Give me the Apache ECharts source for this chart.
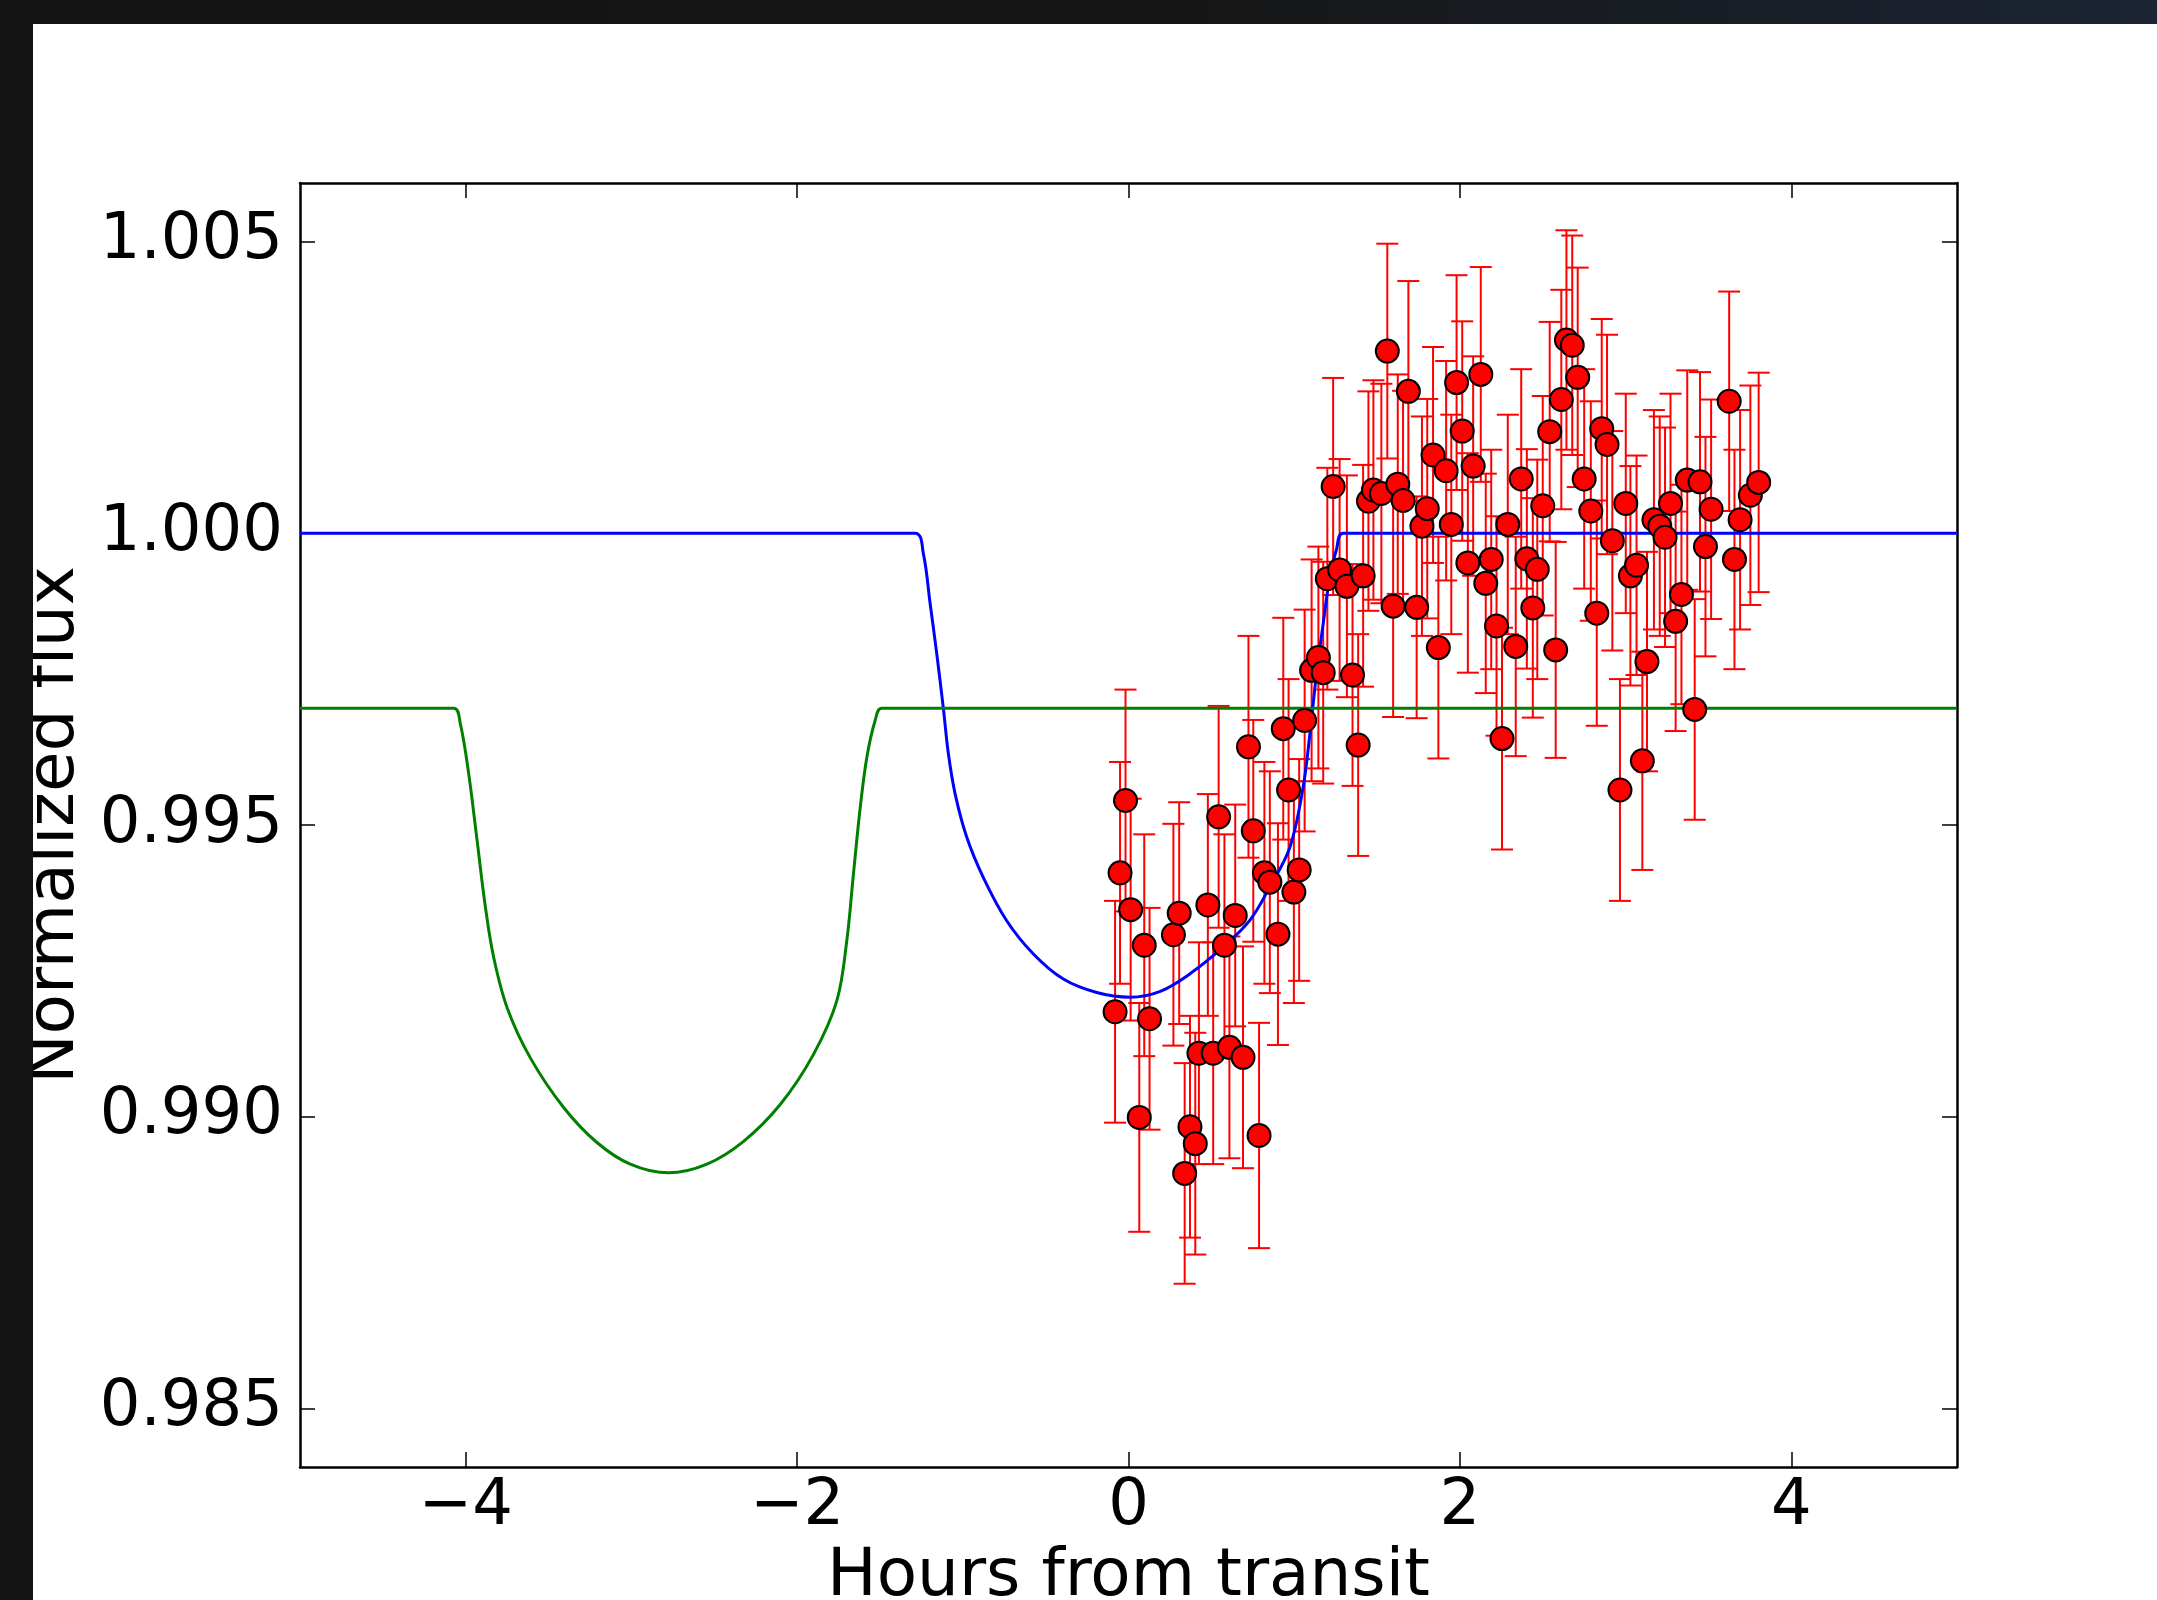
<!DOCTYPE html>
<html>
<head>
<meta charset="utf-8">
<script src="https://cdn.jsdelivr.net/npm/echarts@6/dist/echarts.min.js"></script>
<style>
html,body{margin:0;padding:0;width:2157px;height:1600px;overflow:hidden;
  background:linear-gradient(90deg,#131313 0%,#161616 55%,#1b2433 100%);}
#chart{position:absolute;left:33px;top:24px;width:2124px;height:1576px;background:#ffffff;}
</style>
</head>
<body>
<div id="chart"></div>
<script>
// ---- data ----
const xTicks = [-4, -2, 0, 2, 4];
const yTicks = [0.985, 0.990, 0.995, 1.000, 1.005];

const transitHours = [
  -0.081, -0.051, -0.018, 0.013, 0.065, 0.095, 0.127, 0.271, 0.306, 0.339,
  0.371, 0.403, 0.425, 0.479, 0.511, 0.544, 0.579, 0.609, 0.644, 0.691,
  0.724, 0.753, 0.788, 0.820, 0.853, 0.902, 0.934, 0.966, 0.998, 1.030,
  1.063, 1.105, 1.146, 1.175, 1.200, 1.235, 1.274, 1.318, 1.352, 1.386,
  1.416, 1.448, 1.478, 1.526, 1.562, 1.597, 1.625, 1.657, 1.689, 1.739,
  1.771, 1.803, 1.838, 1.870, 1.917, 1.948, 1.980, 2.014, 2.048, 2.080,
  2.126, 2.156, 2.189, 2.221, 2.254, 2.289, 2.337, 2.370, 2.404, 2.440,
  2.467, 2.500, 2.542, 2.578, 2.612, 2.643, 2.678, 2.711, 2.750, 2.790,
  2.826, 2.856, 2.888, 2.920, 2.966, 3.001, 3.029, 3.066, 3.101, 3.129,
  3.171, 3.206, 3.238, 3.271, 3.302, 3.337, 3.372, 3.417, 3.449, 3.482,
  3.516, 3.625, 3.657, 3.691, 3.753, 3.803
];

const transitFlux = [
  0.99180, 0.99418, 0.99542, 0.99355, 0.98999, 0.99294, 0.99168, 0.99312, 0.99349, 0.98903,
  0.98983, 0.98954, 0.99109, 0.99363, 0.99109, 0.99514, 0.99294, 0.99119, 0.99345, 0.99102,
  0.99634, 0.99490, 0.98968, 0.99418, 0.99402, 0.99313, 0.99665, 0.99560, 0.99385, 0.99423,
  0.99679, 0.99765, 0.99787, 0.99761, 0.99922, 1.00080, 0.99937, 0.99909, 0.99757, 0.99637,
  0.99927, 1.00055, 1.00074, 1.00068, 1.00312, 0.99875, 1.00084, 1.00056, 1.00243, 0.99873,
  1.00012, 1.00042, 1.00134, 0.99804, 1.00107, 1.00015, 1.00258, 1.00175, 0.99949, 1.00115,
  1.00272, 0.99914, 0.99955, 0.99841, 0.99648, 1.00015, 0.99806, 1.00093, 0.99956, 0.99872,
  0.99938, 1.00047, 1.00174, 0.99800, 1.00229, 1.00331, 1.00322, 1.00267, 1.00093, 1.00038,
  0.99863, 1.00179, 1.00152, 0.99987, 0.99560, 1.00051, 0.99927, 0.99945, 0.99610, 0.99780,
  1.00023, 1.00012, 0.99993, 1.00051, 0.99849, 0.99895, 1.00091, 0.99698, 1.00088, 0.99977,
  1.00041, 1.00226, 0.99955, 1.00023, 1.00065, 1.00087
];

const fluxError = [
  0.0019, 0.0019, 0.0019, 0.0019, 0.00196, 0.0019, 0.0019, 0.0019, 0.0019, 0.00189,
  0.0019, 0.0019, 0.0019, 0.0019, 0.0019, 0.0019, 0.0019, 0.0019, 0.0019, 0.0019,
  0.0019, 0.0019, 0.00193, 0.0019, 0.0019, 0.0019, 0.0019, 0.0019, 0.0019, 0.0019,
  0.0019, 0.0019, 0.0019, 0.0019, 0.0019, 0.00186, 0.0019, 0.0019, 0.0019, 0.0019,
  0.0019, 0.00188, 0.00188, 0.00188, 0.00184, 0.0019, 0.00188, 0.00188, 0.00189, 0.0019,
  0.00188, 0.00188, 0.00185, 0.0019, 0.00188, 0.00188, 0.00184, 0.00188, 0.00188, 0.00188,
  0.00184, 0.00188, 0.00188, 0.00188, 0.0019, 0.00188, 0.00188, 0.00188, 0.00188, 0.00188,
  0.00188, 0.00188, 0.00188, 0.00185, 0.00188, 0.00188, 0.00188, 0.00188, 0.00188, 0.00188,
  0.00193, 0.00188, 0.00188, 0.00188, 0.0019, 0.00188, 0.00188, 0.00188, 0.00187, 0.00188,
  0.00188, 0.00188, 0.00188, 0.00188, 0.00188, 0.00188, 0.00188, 0.00189, 0.00188, 0.00188,
  0.00188, 0.00188, 0.00188, 0.00188, 0.00188, 0.00188
];

// model curves (hours, flux)
const modelBlue = [
  [-5, 1.0], [-1.288, 1.0], [-1.238, 0.99965], [-1.197, 0.99879], [-1.157, 0.99793],
  [-1.117, 0.99699], [-1.087, 0.99622], [-1.046, 0.99553], [-0.976, 0.99479],
  [-0.876, 0.99410], [-0.735, 0.99336], [-0.574, 0.99279], [-0.393, 0.99236],
  [-0.192, 0.99213], [0.009, 0.99205], [0.192, 0.99215], [0.371, 0.99245],
  [0.572, 0.99291], [0.733, 0.99337], [0.853, 0.99394], [0.974, 0.99462],
  [1.054, 0.99565], [1.095, 0.99657], [1.135, 0.99760], [1.175, 0.99845],
  [1.215, 0.99925], [1.255, 0.99972], [1.296, 1.0], [5, 1.0]
];

const modelGreen = [
  [-5, 0.997], [-4.072, 0.997], [-4.032, 0.99673], [-3.982, 0.99588], [-3.931, 0.99473],
  [-3.881, 0.99359], [-3.831, 0.99273], [-3.750, 0.99187], [-3.610, 0.99101],
  [-3.409, 0.99016], [-3.208, 0.98956], [-3.007, 0.98919], [-2.776, 0.98904],
  [-2.544, 0.98919], [-2.323, 0.98958], [-2.102, 0.99021], [-1.901, 0.99107],
  [-1.760, 0.99199], [-1.700, 0.99302], [-1.660, 0.99416], [-1.619, 0.99530],
  [-1.579, 0.99616], [-1.529, 0.99679], [-1.489, 0.997], [5, 0.997]
];

// ---- chart ----
const FONT = 'DejaVu Sans';
const chart = echarts.init(document.getElementById('chart'));

const frameLine = {show: true, onZero: false, lineStyle: {color: '#000', width: 2.5}};
const tickStyle = (vals) => ({show: true, inside: true, length: 15, customValues: vals,
  lineStyle: {color: '#000', width: 1.5}});

const errData = transitHours.map((h, i) => [h, transitFlux[i] - fluxError[i], transitFlux[i] + fluxError[i]]);
const ptData = transitHours.map((h, i) => [h, transitFlux[i]]);

chart.setOption({
  animation: false,
  backgroundColor: '#ffffff',
  grid: {left: 267, top: 159, right: 200, bottom: 133, containLabel: false, outerBoundsMode: 'none'},
  xAxis: [
    {
      type: 'value', min: -5, max: 5, position: 'bottom',
      axisLine: frameLine, axisTick: tickStyle(xTicks), splitLine: {show: false},
      axisLabel: {
        customValues: xTicks, margin: 8, fontSize: 64, color: '#000', fontFamily: FONT,
        formatter: v => (v < 0 ? '\u2212' + Math.abs(v) : String(v))
      },
      name: 'Hours from transit', nameLocation: 'middle', nameGap: 78,
      nameTextStyle: {fontSize: 66, color: '#000', fontFamily: FONT}
    },
    {
      type: 'value', min: -5, max: 5, position: 'top',
      axisLine: frameLine, axisTick: tickStyle(xTicks), splitLine: {show: false},
      axisLabel: {show: false}
    }
  ],
  yAxis: [
    {
      type: 'value', min: 0.984, max: 1.006, position: 'left',
      axisLine: frameLine, axisTick: tickStyle(yTicks), splitLine: {show: false},
      axisLabel: {
        customValues: yTicks, margin: 17, fontSize: 64, color: '#000', fontFamily: FONT,
        formatter: v => v.toFixed(3)
      },
      name: 'Normalized flux', nameLocation: 'middle', nameGap: 200,
      nameTextStyle: {fontSize: 66, color: '#000', fontFamily: FONT}
    },
    {
      type: 'value', min: 0.984, max: 1.006, position: 'right',
      axisLine: frameLine, axisTick: tickStyle(yTicks), splitLine: {show: false},
      axisLabel: {show: false}
    }
  ],
  series: [
    {
      type: 'custom', xAxisIndex: 0, yAxisIndex: 0, z: 2,
      data: errData, encode: {x: 0, y: [1, 2]},
      renderItem: function (params, api) {
        const x = api.value(0);
        const top = api.coord([x, api.value(2)]);
        const bot = api.coord([x, api.value(1)]);
        const w = 11;
        const st = {stroke: '#ff0000', lineWidth: 2};
        return {
          type: 'group', children: [
            {type: 'line', shape: {x1: top[0], y1: top[1], x2: bot[0], y2: bot[1]}, style: st},
            {type: 'line', shape: {x1: top[0] - w, y1: top[1], x2: top[0] + w, y2: top[1]}, style: st},
            {type: 'line', shape: {x1: bot[0] - w, y1: bot[1], x2: bot[0] + w, y2: bot[1]}, style: st}
          ]
        };
      }
    },
    {
      type: 'line', xAxisIndex: 0, yAxisIndex: 0, z: 3, data: modelBlue,
      showSymbol: false, symbol: 'none', smooth: 0.35,
      lineStyle: {color: '#0000ff', width: 3}
    },
    {
      type: 'line', xAxisIndex: 0, yAxisIndex: 0, z: 3, data: modelGreen,
      showSymbol: false, symbol: 'none', smooth: 0.35,
      lineStyle: {color: '#008000', width: 3}
    },
    {
      type: 'scatter', xAxisIndex: 0, yAxisIndex: 0, z: 4, data: ptData,
      symbol: 'circle', symbolSize: 23,
      itemStyle: {color: '#ff0000', borderColor: '#000000', borderWidth: 2, opacity: 1}
    }
  ]
});
</script>
</body>
</html>
